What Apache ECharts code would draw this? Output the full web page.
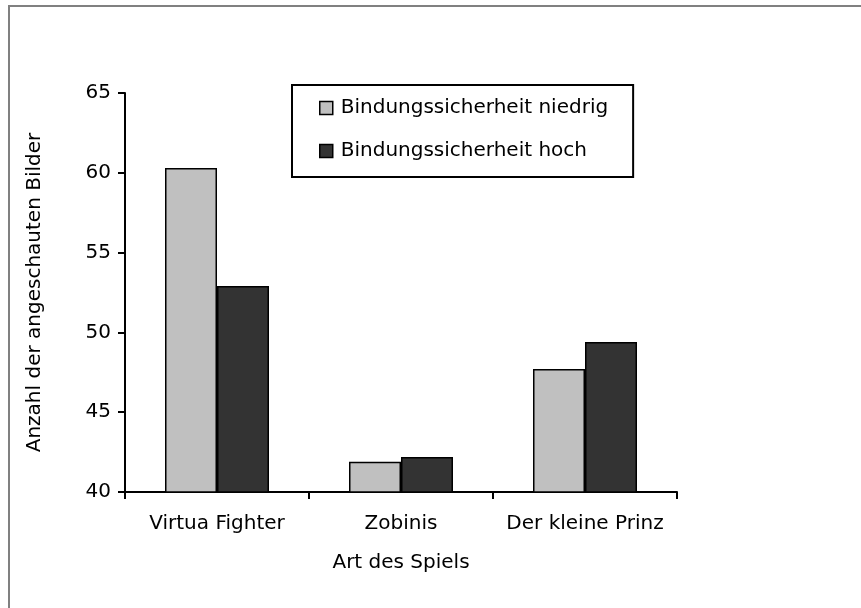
<!DOCTYPE html>
<html>
<head>
<meta charset="utf-8">
<script src="https://cdn.jsdelivr.net/npm/echarts@6/dist/echarts.min.js"></script>
<style>
  html, body { margin: 0; padding: 0; background: #fff; }
  #chart { width: 861px; height: 608px; }
</style>
</head>
<body>
<div id="chart"></div>
<script>
// Daten
const spiele = ["Virtua Fighter", "Zobinis", "Der kleine Prinz"];
const niedrig = [60.3, 41.9, 47.7];
const hoch = [52.9, 42.2, 49.4];
const serienNamen = ["Bindungssicherheit niedrig", "Bindungssicherheit hoch"];

const schrift = "DejaVu Sans";
const myChart = echarts.init(document.getElementById("chart"));

const option = {
  animation: false,
  backgroundColor: "#fff",
  textStyle: { fontFamily: schrift, color: "#000" },
  graphic: [
    {
      type: "rect",
      shape: { x: 9, y: 6, width: 900, height: 700 },
      style: { fill: "none", stroke: "#808080", lineWidth: 2 },
      silent: true,
    },
  ],
  grid: { left: 125, right: 184, top: 93, bottom: 116 },
  legend: {
    data: serienNamen,
    orient: "vertical",
    left: 292,
    top: 85,
    padding: [12, 25, 15, 27],
    borderColor: "#000",
    borderWidth: 2,
    itemWidth: 13,
    itemHeight: 13,
    itemGap: 21,
    icon: "rect",
    itemStyle: { borderColor: "#000", borderWidth: 1.5 },
    textStyle: { fontFamily: schrift, fontSize: 20, color: "#000", lineHeight: 22, padding: [0, 0, 0, 3] },
  },
  xAxis: {
    type: "category",
    data: spiele,
    name: "Art des Spiels",
    nameLocation: "middle",
    nameGap: 61,
    nameTextStyle: { fontFamily: schrift, fontSize: 20, color: "#000" },
    axisLine: { lineStyle: { color: "#000", width: 2 } },
    axisTick: { show: true, interval: 0, length: 7, lineStyle: { color: "#000", width: 2 } },
    axisLabel: { interval: 0, fontFamily: schrift, fontSize: 20, color: "#000", margin: 22 },
  },
  yAxis: {
    type: "value",
    min: 40,
    max: 65,
    interval: 5,
    name: "Anzahl der angeschauten Bilder",
    nameLocation: "middle",
    nameGap: 80,
    nameTextStyle: { fontFamily: schrift, fontSize: 20, color: "#000" },
    axisLine: { show: true, lineStyle: { color: "#000", width: 2 } },
    axisTick: { show: true, length: 7, lineStyle: { color: "#000", width: 2 } },
    axisLabel: { fontFamily: schrift, fontSize: 20, color: "#000", margin: 14 },
    splitLine: { show: false },
  },
  series: [
    {
      name: serienNamen[0],
      type: "bar",
      data: niedrig,
      barWidth: 52,
      barGap: "0%",
      itemStyle: { color: "#c0c0c0", borderColor: "#000", borderWidth: 1.5 },
    },
    {
      name: serienNamen[1],
      type: "bar",
      data: hoch,
      barWidth: 52,
      barGap: "0%",
      itemStyle: { color: "#333333", borderColor: "#000", borderWidth: 1.5 },
    },
  ],
};

myChart.setOption(option);
</script>
</body>
</html>
